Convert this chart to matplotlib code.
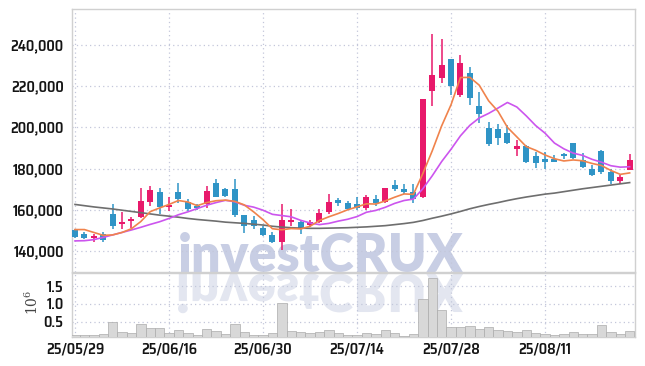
import numpy as np
import matplotlib
matplotlib.use('Agg')
import matplotlib.pyplot as plt
from matplotlib.textpath import TextPath
from matplotlib.font_manager import FontProperties
from matplotlib.patches import PathPatch
from matplotlib.path import Path
from matplotlib.ticker import FuncFormatter

# prices in thousands of won
opens = [150.1, 148.2, 146.5, 148.2, 157.9, 153.2, 154.5, 156.3, 164.0, 168.4,
         161.4, 168.4, 164.0, 162.0, 163.0, 172.8, 170.0, 170.0, 157.4, 155.1,
         151.0, 147.7, 144.5, 154.0, 154.2, 152.6, 154.2, 158.7, 164.8, 163.2,
         163.0, 160.8, 165.1, 164.0, 171.9, 170.0, 168.7, 166.2, 217.9, 224.2,
         233.2, 215.5, 226.3, 210.5, 199.8, 199.3, 197.3, 189.6, 191.2, 186.0,
         184.9, 184.8, 186.6, 192.2, 184.4, 179.6, 188.4, 178.3, 174.0, 179.3]
highs = [150.6, 149.0, 148.2, 149.3, 163.0, 158.7, 156.6, 170.8, 171.5, 170.4,
         166.3, 173.2, 165.1, 163.0, 171.5, 174.8, 170.8, 174.8, 157.4, 156.8,
         152.2, 149.0, 162.7, 160.6, 154.8, 155.0, 160.6, 167.5, 165.6, 164.5,
         166.0, 167.2, 167.2, 170.8, 174.3, 172.4, 172.4, 214.0, 245.2, 242.9,
         233.4, 235.2, 229.5, 217.4, 202.6, 201.6, 201.4, 194.1, 191.5, 188.0,
         187.9, 186.6, 187.6, 192.2, 187.7, 181.7, 188.9, 179.6, 177.1, 186.9]
lows = [146.5, 145.8, 144.2, 144.2, 150.6, 150.6, 151.4, 156.0, 161.9, 157.9,
        159.5, 163.5, 159.5, 160.0, 161.1, 166.0, 166.0, 156.3, 148.9, 150.6,
        147.1, 144.0, 140.6, 152.2, 148.2, 151.6, 153.5, 157.9, 162.0, 159.8,
        160.0, 160.0, 161.9, 163.5, 169.1, 167.5, 163.5, 165.8, 210.2, 221.5,
        215.5, 215.0, 211.0, 202.2, 190.9, 191.5, 191.7, 186.0, 182.5, 180.5,
        180.0, 183.0, 184.8, 184.8, 180.4, 176.3, 177.5, 172.7, 172.7, 179.3]
closes = [147.0, 146.3, 146.9, 145.3, 152.2, 154.0, 155.5, 164.3, 169.5, 161.4,
          162.2, 165.1, 160.6, 160.7, 169.1, 166.4, 166.7, 157.4, 152.2, 152.2,
          147.7, 144.5, 155.0, 155.0, 151.4, 154.2, 158.4, 163.8, 163.2, 160.6,
          160.8, 166.0, 163.5, 170.4, 170.0, 168.7, 165.1, 213.9, 225.5, 230.3,
          220.3, 231.2, 214.3, 206.5, 192.0, 194.9, 192.5, 191.2, 183.1, 182.9,
          183.3, 183.3, 186.1, 185.3, 180.9, 176.7, 178.5, 174.0, 176.0, 184.4]

# moving average lines
ma5 = [150.4, 150.4, 149.0, 147.6, 147.8, 149.0, 150.8, 154.3, 159.1, 160.9,
       162.6, 164.5, 163.8, 162.0, 163.5, 164.4, 164.7, 164.1, 162.4, 159.0,
       155.2, 150.8, 150.3, 150.9, 150.7, 152.0, 154.8, 156.6, 158.2, 160.0,
       161.4, 162.9, 162.8, 164.3, 166.1, 167.7, 167.5, 177.6, 188.6, 200.7,
       211.0, 224.2, 224.3, 220.5, 212.9, 207.8, 200.0, 195.4, 190.7, 188.9,
       186.6, 184.8, 183.7, 184.2, 183.8, 182.5, 181.5, 179.1, 177.2, 177.9]
ma10 = [144.9, 145.0, 145.5, 146.6, 147.8, 149.0, 150.2, 151.5, 152.9, 154.2,
        155.8, 157.6, 159.0, 160.6, 162.2, 163.5, 164.6, 163.9, 162.2, 161.3,
        159.8, 157.8, 157.2, 156.6, 154.9, 153.6, 152.8, 153.4, 154.5, 155.4,
        156.7, 158.8, 159.7, 161.2, 163.1, 164.5, 165.2, 170.2, 176.5, 183.4,
        189.4, 195.9, 201.0, 204.6, 206.8, 209.4, 212.1, 209.9, 205.6, 200.9,
        197.2, 192.4, 189.6, 187.5, 186.4, 184.5, 183.1, 181.4, 180.7, 180.9]
ma_long = [162.6, 162.0, 161.4, 160.9, 160.4, 159.8, 159.2, 158.6, 158.0, 157.4,
           156.9, 156.4, 155.8, 155.3, 154.9, 154.5, 154.0, 153.7, 153.4, 153.0,
           152.6, 152.0, 151.6, 151.3, 151.1, 151.0, 151.0, 151.1, 151.2, 151.3,
           151.5, 151.7, 152.0, 152.3, 152.8, 153.3, 153.9, 154.8, 155.9, 156.9,
           158.0, 159.2, 160.5, 161.6, 162.6, 163.5, 164.5, 165.4, 166.2, 166.9,
           167.6, 168.1, 168.8, 169.5, 170.2, 170.8, 171.4, 172.0, 172.6, 173.2]

# volume in millions of shares
volume = [0.12, 0.12, 0.12, 0.16, 0.50, 0.22, 0.19, 0.43, 0.32, 0.32,
          0.19, 0.27, 0.19, 0.12, 0.30, 0.24, 0.16, 0.43, 0.21, 0.14,
          0.14, 0.17, 1.03, 0.24, 0.21, 0.19, 0.21, 0.27, 0.17, 0.12,
          0.12, 0.17, 0.16, 0.27, 0.19, 0.10, 0.16, 1.15, 1.72, 0.83,
          0.34, 0.34, 0.38, 0.30, 0.34, 0.27, 0.24, 0.21, 0.27, 0.17,
          0.16, 0.14, 0.16, 0.22, 0.16, 0.16, 0.40, 0.21, 0.16, 0.24]

date_ticks = [0, 10, 20, 30, 40, 50]
date_labels = ['25/05/29', '25/06/16', '25/06/30', '25/07/14', '25/07/28', '25/08/11']
price_ticks = [140000, 160000, 180000, 200000, 220000, 240000]
vol_ticks = [0.5, 1.0, 1.5]

UP = '#e8196b'
DOWN = '#2f94c6'
GRID = '#c3c7da'
SPINE = '#d0d0d0'
LABEL_FONT = ['Saira SemiCondensed', 'DejaVu Sans']

W, H = 645, 366
fig = plt.figure(figsize=(W / 100, H / 100), dpi=100)
left, right = 72 / W, 635 / W
ax = fig.add_axes([left, 1 - 272 / H, right - left, (272 - 9) / H])
axv = fig.add_axes([left, 1 - 337.3 / H, right - left, (337.3 - 272.7) / H])

x = np.arange(len(closes))
o = np.array(opens) * 1000
h = np.array(highs) * 1000
l = np.array(lows) * 1000
c = np.array(closes) * 1000
colors = [UP if cc >= oo else DOWN for oo, cc in zip(o, c)]

# candles
ax.vlines(x, l, h, colors=colors, linewidth=1.1, zorder=3)
body_low = np.minimum(o, c)
body_h = np.maximum(np.abs(c - o), 900)
ax.bar(x, body_h, bottom=body_low, width=0.64, color=colors, zorder=3)

# moving averages
ax.plot(x, np.array(ma_long) * 1000, color='#6e6e6e', lw=1.2, zorder=4)
ax.plot(x, np.array(ma10) * 1000, color='#cc55ee', lw=1.2, zorder=4)
ax.plot(x, np.array(ma5) * 1000, color='#f0834c', lw=1.2, zorder=5)

ax.set_xlim(-0.32, 59.57)
ax.set_ylim(129800, 257480)
ax.set_yticks(price_ticks)
ax.yaxis.set_major_formatter(FuncFormatter(lambda v, p: '{:,.0f}'.format(v)))
ax.set_xticks(date_ticks)
ax.set_xticklabels([])
ax.set_axisbelow(True)
ax.grid(True, linestyle=(0, (1, 2.5)), color=GRID, linewidth=0.9)

# volume
axv.bar(x, volume, width=1.0, bottom=0, color='#d8d8d8', edgecolor='#ababab', linewidth=0.5, zorder=3)
axv.set_xlim(-0.32, 59.57)
axv.set_ylim(0.063, 1.873)
axv.set_yticks(vol_ticks)
axv.set_yticklabels(['0.5', '1.0', '1.5'])
axv.set_xticks(date_ticks)
axv.set_xticklabels(date_labels)
axv.set_axisbelow(True)
axv.grid(True, linestyle=(0, (1, 2.5)), color=GRID, linewidth=0.9)

for a in (ax, axv):
    for s in a.spines.values():
        s.set_color(SPINE)
        s.set_linewidth(1.0)
    a.tick_params(length=0, labelsize=10.5, labelcolor='#141414')
    a.tick_params(axis='y', pad=6)
    a.tick_params(axis='x', pad=4)
    for t in a.get_xticklabels() + a.get_yticklabels():
        t.set_family(LABEL_FONT)
        t.set_fontweight(600)

plt.rcParams['mathtext.fontset'] = 'dejavuserif'
fig.text(32 / W, 1 - 302 / H, r'$10^6$', rotation=90, ha='center', va='center',
         fontsize=10, color='#444444')

# watermark: real text, sized to the reference box
x0, x1, ybase = 178, 463, 272
wm = ax.text(x0 / W, 1 - ybase / H, 'investCRUX', transform=fig.transFigure,
             family=['Lato', 'DejaVu Sans'], fontweight='heavy', fontsize=40,
             color='#c8cee4', ha='left', va='baseline', zorder=0.3)
fig.canvas.draw()
bb = wm.get_window_extent(fig.canvas.get_renderer())
wm.set_fontsize(40 * (x1 - x0) / bb.width)

# mirrored reflection below the baseline
fp = FontProperties(family=['Lato', 'DejaVu Sans'], weight='heavy')
tp = TextPath((0, 0), 'investCRUX', size=1, prop=fp)
ext = tp.get_extents()
v = tp.vertices
s = (x1 - x0) / ext.width
px = x0 + (v[:, 0] - ext.x0) * s
dn = np.column_stack([px / W, 1 - (ybase + 2 + v[:, 1] * s) / H])
axv.add_patch(PathPatch(Path(dn, tp.codes), transform=fig.transFigure,
                        facecolor='#e3e6f0', edgecolor='none', zorder=0.3))

fig.savefig('out.png', dpi=100)
